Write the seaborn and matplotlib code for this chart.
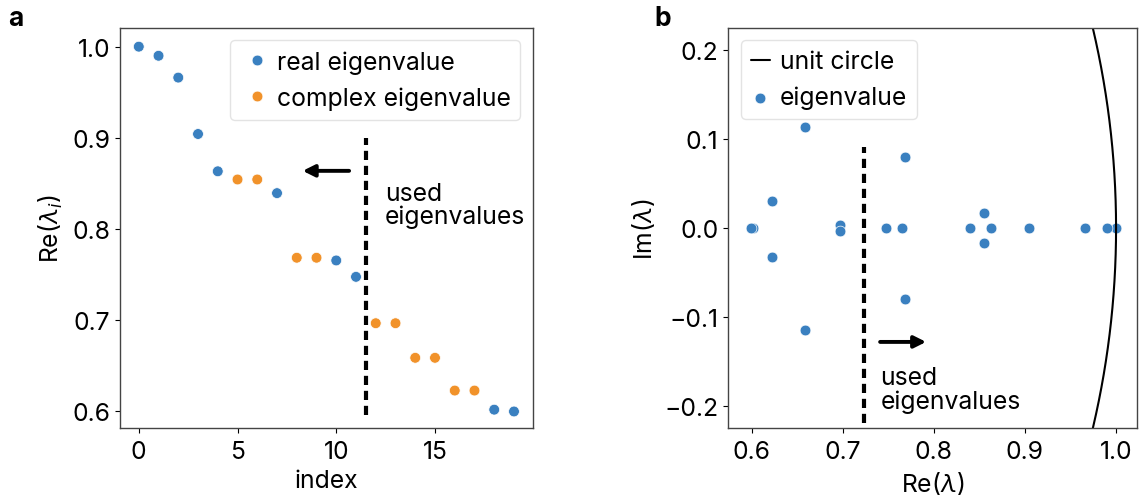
import numpy as np
import pandas as pd
import matplotlib
matplotlib.use("Agg")
import matplotlib.pyplot as plt
import seaborn as sns

# ---- data ----
index = list(range(20))
re_lambda = [1.000, 0.990, 0.966, 0.904, 0.863, 0.854, 0.854, 0.839,
             0.768, 0.768, 0.765, 0.747, 0.696, 0.696, 0.658, 0.658,
             0.622, 0.622, 0.601, 0.599]
kind = ["real eigenvalue"] * 5 + ["complex eigenvalue"] * 2 + ["real eigenvalue"] + \
       ["complex eigenvalue"] * 2 + ["real eigenvalue"] * 2 + ["complex eigenvalue"] * 6 + \
       ["real eigenvalue"] * 2
im_lambda = [0.0, 0.0, 0.0, 0.0, 0.0, 0.017, -0.017, 0.0,
             0.080, -0.080, 0.0, 0.0, 0.003, -0.003, 0.113, -0.114,
             0.031, -0.032, 0.0, 0.0]
re_lambda_b = [1.000, 0.990, 0.966, 0.904, 0.863, 0.855, 0.855, 0.840,
               0.768, 0.768, 0.765, 0.748, 0.697, 0.697, 0.658, 0.658,
               0.622, 0.622, 0.601, 0.599]

cut_index = 11.5
cut_re = 0.7235

BLUE = "#3a80c0"
ORANGE = "#f1922a"

sns.set_style("ticks")
FONT = "Inter"
plt.rcParams["font.family"] = [FONT, "DejaVu Sans"]
plt.rcParams["mathtext.fontset"] = "custom"
plt.rcParams["mathtext.rm"] = FONT
plt.rcParams["mathtext.it"] = FONT + ":italic"
plt.rcParams["axes.edgecolor"] = "#444444"
plt.rcParams["axes.linewidth"] = 1.0
for k in ["text.color", "axes.labelcolor", "xtick.color", "ytick.color"]:
    plt.rcParams[k] = "black"
FS = 17.8

fig = plt.figure(figsize=(11.42, 5.02), dpi=100)
ax1 = fig.add_axes([0.1051, 0.1448, 0.3614, 0.7974])
ax2 = fig.add_axes([0.6377, 0.1448, 0.3577, 0.7974])

# ---- panel a ----
df_a = pd.DataFrame({"index": index, "re": re_lambda, "kind": kind})
sns.scatterplot(data=df_a, x="index", y="re", hue="kind",
                hue_order=["real eigenvalue", "complex eigenvalue"],
                palette=[BLUE, ORANGE], s=60, edgecolor="white", linewidth=0.5,
                ax=ax1)
ax1.set_xlim(-0.95, 19.95)
ax1.set_ylim(0.5805, 1.0205)
ax1.set_xticks([0, 5, 10, 15])
ax1.set_yticks([0.6, 0.7, 0.8, 0.9, 1.0])
ax1.set_xlabel("index", fontsize=FS, labelpad=4)
ax1.set_ylabel(r"Re($\lambda_i$)", fontsize=FS, labelpad=5)
ax1.tick_params(labelsize=FS, length=3.5)
ax1.tick_params(axis="x", pad=5)
ax1.vlines(cut_index, 0.595, 0.9, colors="black", linestyles=(0, (2.2, 1.4)), linewidth=3)
ax1.annotate("", xy=(8.3, 0.8635), xytext=(10.65, 0.8635),
             arrowprops=dict(arrowstyle="-|>,head_length=0.7,head_width=0.35",
                             color="black", lw=2.8, shrinkA=0, shrinkB=0))
ax1.text(12.45, 0.826, "used\neigenvalues", fontsize=FS, va="center", ha="left",
         linespacing=1.0)
leg1 = ax1.legend(loc="upper right", fontsize=FS, handletextpad=0.1,
                  borderaxespad=0.5, markerscale=1.0, handlelength=1.4,
                  labelspacing=0.5)
leg1.get_frame().set_edgecolor("#dddddd")

# ---- panel b ----
theta = np.linspace(-0.3, 0.3, 400)
ax2.plot(np.cos(theta), np.sin(theta), color="black", lw=1.5, label="unit circle")
df_b = pd.DataFrame({"re": re_lambda_b, "im": im_lambda})
sns.scatterplot(data=df_b, x="re", y="im", color=BLUE, s=60, edgecolor="white",
                linewidth=0.5, ax=ax2, label="eigenvalue")
ax2.set_xlim(0.5743, 1.0227)
ax2.set_ylim(-0.2245, 0.2245)
ax2.set_xticks([0.6, 0.7, 0.8, 0.9, 1.0])
ax2.set_yticks([-0.2, -0.1, 0.0, 0.1, 0.2])
ax2.set_xlabel(r"Re($\lambda$)", fontsize=FS, labelpad=4)
ax2.set_ylabel(r"Im($\lambda$)", fontsize=FS, labelpad=5)
ax2.tick_params(labelsize=FS, length=3.5)
ax2.tick_params(axis="x", pad=5)
ax2.vlines(cut_re, -0.219, 0.091, colors="black", linestyles=(0, (2.2, 1.4)), linewidth=3)
ax2.annotate("", xy=(0.7915, -0.1276), xytext=(0.741, -0.1276),
             arrowprops=dict(arrowstyle="-|>,head_length=0.7,head_width=0.35",
                             color="black", lw=2.8, shrinkA=0, shrinkB=0))
ax2.text(0.7415, -0.181, "used\neigenvalues", fontsize=FS, va="center", ha="left",
         linespacing=1.0)
leg2 = ax2.legend(loc="upper left", fontsize=FS, handletextpad=0.4,
                  borderaxespad=0.5, handlelength=0.8, labelspacing=0.5)
leg2.get_frame().set_edgecolor("#dddddd")

fig.text(0.007, 0.962, "a", fontsize=19, fontweight="bold", va="center", ha="left")
fig.text(0.573, 0.962, "b", fontsize=19, fontweight="bold", va="center", ha="left")

fig.savefig("out.png", dpi=100)
